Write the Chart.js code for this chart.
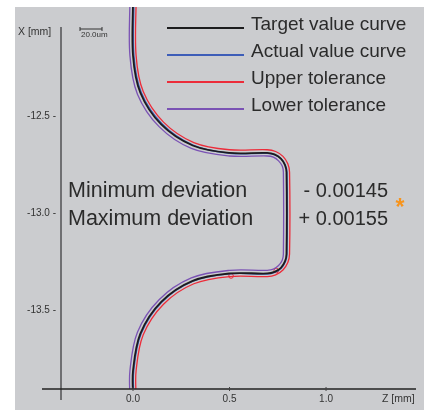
<!DOCTYPE html>
<html>
<head>
<meta charset="utf-8">
<script src="https://cdn.jsdelivr.net/npm/chart.js@4/dist/chart.umd.min.js"></script>
<style>
  html, body { margin: 0; padding: 0; background: #fff; }
  #wrap { position: absolute; left: 15px; top: 7px; width: 409px; height: 403px; background: #cbcccf; }
  canvas { display: block; }
</style>
</head>
<body>
<div id="wrap"><canvas id="my-chart" width="409" height="403"></canvas></div>
<script>
// tick labels
const zTicks = [0.0, 0.5, 1.0];
const xTicks = [-12.5, -13.0, -13.5];

// curves, Z [mm] / X [mm]
const targetZ = [0, 0, 0.038, 0.146, 0.309, 0.5, 0.695, 0.733, 0.766, 0.787, 0.795, 0.795, 0.787, 0.766, 0.733, 0.695, 0.5, 0.309, 0.146, 0.038, 0, 0];
const targetX = [-11.90, -12.19, -12.381, -12.544, -12.652, -12.69, -12.69, -12.698, -12.719, -12.752, -12.79, -13.21, -13.248, -13.281, -13.302, -13.31, -13.31, -13.348, -13.456, -13.619, -13.81, -13.95];

const actualZ = [0.005, 0.005, 0.043, 0.150, 0.311, 0.5, 0.695, 0.734, 0.767, 0.789, 0.798, 0.798, 0.790, 0.768, 0.734, 0.695, 0.5, 0.311, 0.149, 0.042, 0.004, 0.004];
const actualX = [-11.90, -12.19, -12.380, -12.540, -12.650, -12.692, -12.693, -12.700, -12.720, -12.752, -12.79, -13.21, -13.249, -13.283, -13.305, -13.313, -13.312, -13.350, -13.458, -13.620, -13.81, -13.95];

const upperZ = [0.016, 0.016, 0.053, 0.158, 0.315, 0.5, 0.695, 0.739, 0.777, 0.802, 0.811, 0.811, 0.802, 0.777, 0.739, 0.695, 0.5, 0.315, 0.158, 0.053, 0.016, 0.016];
const upperX = [-11.90, -12.19, -12.375, -12.532, -12.637, -12.674, -12.674, -12.683, -12.708, -12.746, -12.79, -13.21, -13.254, -13.292, -13.317, -13.326, -13.326, -13.363, -13.468, -13.625, -13.81, -13.95];

const lowerZ = [-0.016, -0.016, 0.023, 0.135, 0.302, 0.5, 0.695, 0.727, 0.754, 0.773, 0.779, 0.779, 0.773, 0.754, 0.727, 0.695, 0.5, 0.302, 0.135, 0.023, -0.016, -0.016];
const lowerX = [-11.90, -12.19, -12.388, -12.555, -12.667, -12.706, -12.706, -12.712, -12.731, -12.758, -12.79, -13.21, -13.242, -13.269, -13.288, -13.294, -13.294, -13.333, -13.445, -13.612, -13.81, -13.95];

// marked points
const markZ = [0.508, 0.742];
const markX = [-13.323, -13.295];

const minDeviation = '- 0.00145';
const maxDeviation = '+ 0.00155';

const FONT = '"Liberation Sans", Arial, sans-serif';

function pts(zs, xs) {
  return zs.map((z, i) => ({ x: z, y: xs[i] }));
}

function curve(label, zs, xs, color, width) {
  return {
    label: label,
    data: pts(zs, xs),
    showLine: true,
    borderColor: color,
    backgroundColor: color,
    borderWidth: width,
    pointRadius: 0,
    tension: 0.35,
    inLegend: true
  };
}

// axis lines, titles, scale bar, legend and deviation text
const decor = {
  id: 'decor',
  afterDraw(chart) {
    const c = chart.ctx;
    const a = chart.chartArea;
    const xs = chart.scales.x;
    c.save();

    // y axis line
    c.strokeStyle = '#6f6f72';
    c.lineWidth = 2;
    c.beginPath();
    c.moveTo(a.left, 20);
    c.lineTo(a.left, 393);
    c.stroke();

    // x axis line
    c.strokeStyle = '#222';
    c.lineWidth = 1.3;
    c.beginPath();
    c.moveTo(27, a.bottom);
    c.lineTo(a.right, a.bottom);
    c.stroke();

    // x tick marks
    c.lineWidth = 1;
    c.strokeStyle = '#444';
    zTicks.forEach(v => {
      const px = xs.getPixelForValue(v);
      c.beginPath();
      c.moveTo(px, a.bottom - 2);
      c.lineTo(px, a.bottom + 2);
      c.stroke();
    });

    // axis titles
    c.fillStyle = '#333';
    c.font = '10.5px ' + FONT;
    c.textBaseline = 'alphabetic';
    c.textAlign = 'left';
    c.fillText('X [mm]', 3, 28);
    c.fillText('Z [mm]', 367, 395);

    // scale bar
    c.strokeStyle = '#333';
    c.lineWidth = 1;
    c.beginPath();
    c.moveTo(65, 22); c.lineTo(87, 22);
    c.moveTo(65, 20); c.lineTo(65, 24);
    c.moveTo(87, 20); c.lineTo(87, 24);
    c.stroke();
    c.font = '8px ' + FONT;
    c.fillText('20.0um', 66, 30);

    // legend
    c.font = '19px ' + FONT;
    let row = 0;
    chart.data.datasets.forEach(ds => {
      if (!ds.inLegend) return;
      const y = 21 + row * 27;
      c.strokeStyle = ds.borderColor;
      c.lineWidth = 2;
      c.beginPath();
      c.moveTo(152, y);
      c.lineTo(229, y);
      c.stroke();
      c.fillStyle = '#2b2b2b';
      c.fillText(ds.label, 236, y + 2);
      row++;
    });

    // deviation text
    c.fillStyle = '#2b2b2b';
    c.font = '21.5px ' + FONT;
    c.textAlign = 'left';
    c.fillText('Minimum deviation', 53, 190);
    c.fillText('Maximum deviation', 53, 218);
    c.font = '20px ' + FONT;
    c.textAlign = 'right';
    c.fillText(minDeviation, 373, 190);
    c.fillText(maxDeviation, 373, 218);

    // asterisk
    c.fillStyle = '#f7941d';
    c.font = 'bold 23px ' + FONT;
    c.textAlign = 'center';
    c.fillText('*', 385, 208);

    c.restore();
  }
};

const ctx = document.getElementById('my-chart').getContext('2d');
const chart = new Chart(ctx, {
  type: 'scatter',
  data: {
    datasets: [
      curve('Target value curve', targetZ, targetX, '#1c1c1e', 1.8),
      curve('Actual value curve', actualZ, actualX, '#3d5db8', 1.3),
      curve('Upper tolerance', upperZ, upperX, '#ec2c3a', 1.3),
      curve('Lower tolerance', lowerZ, lowerX, '#7a52b4', 1.3),
      {
        label: 'marks',
        data: pts(markZ, markX),
        showLine: false,
        pointRadius: 2.3,
        pointBorderWidth: 1,
        borderColor: '#e82a36',
        backgroundColor: 'rgba(0,0,0,0)'
      }
    ]
  },
  options: {
    responsive: false,
    animation: false,
    layout: { autoPadding: false, padding: { left: 0, right: 8, top: 0, bottom: 0 } },
    plugins: { legend: { display: false }, tooltip: { enabled: false } },
    scales: {
      x: {
        type: 'linear',
        min: -0.373,
        max: 1.466,
        grid: { display: false, drawTicks: false },
        border: { display: false },
        afterBuildTicks: s => { s.ticks = zTicks.map(v => ({ value: v })); },
        afterFit: s => { s.height = 21; s.paddingLeft = 0; s.paddingRight = 0; },
        ticks: {
          padding: 4,
          maxRotation: 0,
          color: '#333',
          font: { size: 10, family: FONT },
          callback: v => Number(v).toFixed(1)
        }
      },
      y: {
        type: 'linear',
        min: -13.904,
        max: -11.94,
        grid: { display: false, drawTicks: false },
        border: { display: false },
        afterBuildTicks: s => { s.ticks = xTicks.map(v => ({ value: v })); },
        afterFit: s => { s.width = 46; s.paddingTop = 0; s.paddingBottom = 0; },
        ticks: {
          padding: 5,
          color: '#333',
          font: { size: 10, family: FONT },
          callback: v => Number(v).toFixed(1) + ' -'
        }
      }
    }
  },
  plugins: [decor]
});
</script>
</body>
</html>
